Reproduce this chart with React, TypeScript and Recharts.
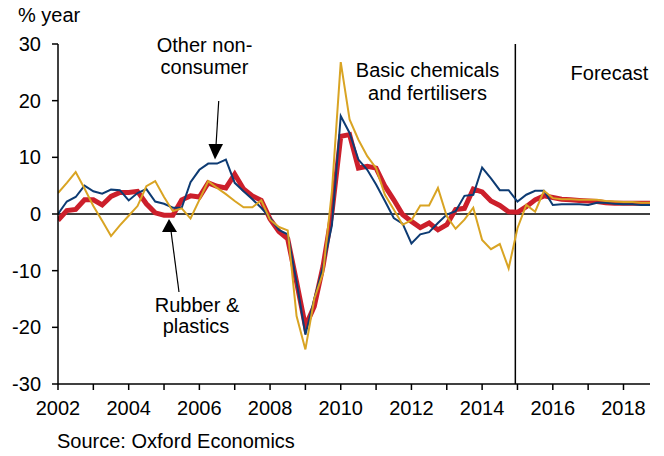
import React from "react";
import { LineChart, Line, XAxis, YAxis, ReferenceLine } from "recharts";

const startYear = 2002;
const forecastStart = 2014.94;
const xTicks = [2002, 2003, 2004, 2005, 2006, 2007, 2008, 2009, 2010, 2011, 2012, 2013, 2014, 2015, 2016, 2017, 2018];
const yTicks = [-30, -20, -10, 0, 10, 20, 30];

const otherNonConsumer = [0, 2.2, 3.0, 5.0, 4.0, 3.6, 4.3, 4.2, 2.4, 3.7, 4.4, 2.2, 1.8, 1.1, 1.1, 5.6, 7.8, 8.9, 8.9, 9.6, 5.5, 4.0, 2.6, 1.1, -0.7, -2.8, -3.6, -12, -21.3, -15, -9.3, -2, 17.3, 14.3, 9.6, 7.8, 5.2, 2.3, -0.7, -1.7, -5.2, -3.6, -3.2, -1.6, -0.1, 0.5, 3.2, 3.4, 8.2, 6.3, 4.2, 4.2, 2.2, 3.4, 4.1, 4.1, 1.6, 1.7, 1.7, 1.7, 1.6, 2.0, 2.0, 1.8, 1.7, 1.7, 1.6, 1.6];
const rubberPlastics = [-1.1, 0.6, 0.8, 2.5, 2.5, 1.6, 3.1, 3.8, 3.8, 4.0, 1.8, 0.2, -0.2, -0.2, 2.5, 3.2, 3.0, 5.5, 4.9, 4.6, 7.0, 4.4, 3.2, 2.4, -0.9, -3.1, -4.4, -12, -19.8, -16.3, -9.2, 0.2, 13.7, 14.0, 8.1, 8.4, 8.1, 4.9, 2.5, -0.1, -1.3, -2.4, -1.6, -2.8, -1.9, 0.8, 1.0, 4.4, 3.9, 2.3, 1.5, 0.4, 0.3, 1.3, 2.5, 3.2, 2.9, 2.6, 2.5, 2.4, 2.3, 2.2, 2.0, 1.9, 1.9, 1.9, 1.9, 1.9];
const basicChemicals = [3.7, 5.5, 7.4, 4.5, 1.4, -1.2, -3.9, -2.0, -0.3, 1.4, 4.9, 5.8, 3.0, 0.5, 1.0, -0.8, 2.5, 5.8, 4.6, 3.5, 2.3, 1.2, 1.2, 2.4, -1.0, -2.3, -2.9, -18, -23.9, -15, -10.4, 4, 26.8, 16.7, 13.1, 10.2, 8.1, 3.4, 0.8, -1.9, -1.1, 1.5, 1.5, 4.6, -0.4, -2.6, -1.0, 1.1, -4.6, -6.2, -5.3, -9.6, -2.5, 1.6, 0.4, 4.1, 2.8, 2.6, 2.6, 2.5, 2.5, 2.5, 2.3, 2.2, 2.1, 2.1, 2.0, 2.0];

const data = otherNonConsumer.map((v, i) => ({
  t: startYear + i / 4,
  other: v,
  rubber: rubberPlastics[i],
  basic: basicChemicals[i],
}));

const FONT = "'Liberation Sans', Arial, sans-serif";

export default function App() {
  return (
    <div style={{ position: "absolute", left: 0, top: 0, width: 664, height: 456, background: "#fff", fontFamily: FONT }}>
      <LineChart width={664} height={456} data={data} margin={{ top: 44, right: 14, left: 0, bottom: 42 }}>
        <XAxis
          type="number"
          dataKey="t"
          domain={[2002, 2018.75]}
          ticks={xTicks}
          allowDataOverflow
          height={30}
          tickFormatter={(v: number) => (v % 2 === 0 ? String(v) : "")}
          tick={{ fill: "#000", fontSize: 20, fontFamily: FONT }}
          tickSize={6}
          tickMargin={11}
          axisLine={{ stroke: "#000", strokeWidth: 1.5 }}
          tickLine={{ stroke: "#000", strokeWidth: 1.5 }}
        />
        <YAxis
          type="number"
          domain={[-30, 30]}
          ticks={yTicks}
          width={58}
          tick={{ fill: "#000", fontSize: 20, fontFamily: FONT }}
          tickSize={6}
          tickMargin={11}
          axisLine={{ stroke: "#000", strokeWidth: 1.5 }}
          tickLine={{ stroke: "#000", strokeWidth: 1.5 }}
        />
        <ReferenceLine y={0} stroke="#000" strokeWidth={1.5} />
        <ReferenceLine x={forecastStart} stroke="#000" strokeWidth={1.5} />
        <Line type="linear" dataKey="rubber" stroke="#CC1F2B" strokeWidth={5} dot={false} isAnimationActive={false} />
        <Line type="linear" dataKey="other" stroke="#0D3B73" strokeWidth={2} dot={false} isAnimationActive={false} />
        <Line type="linear" dataKey="basic" stroke="#D9A423" strokeWidth={2} dot={false} isAnimationActive={false} />
      </LineChart>
      <svg width={664} height={456} style={{ position: "absolute", left: 0, top: 0, pointerEvents: "none" }}>
        <g fontFamily={FONT} fontSize={20} fill="#000">
          <text x={18} y={22}>% year</text>
          <text x={204.5} y={52} textAnchor="middle">Other non-</text>
          <text x={204.5} y={74} textAnchor="middle">consumer</text>
          <text x={427.5} y={77} textAnchor="middle">Basic chemicals</text>
          <text x={427.5} y={100} textAnchor="middle">and fertilisers</text>
          <text x={609.5} y={80} textAnchor="middle">Forecast</text>
          <text x={197} y={312} textAnchor="middle">Rubber &amp;</text>
          <text x={196} y={333} textAnchor="middle">plastics</text>
          <text x={57} y={448}>Source: Oxford Economics</text>
        </g>
        <line x1={218.7} y1={101} x2={216} y2={146} stroke="#000" strokeWidth={1.2} />
        <polygon points="208.5,144 223,144 215,159.5" fill="#000" />
        <line x1={179} y1={292} x2={171} y2={231} stroke="#000" strokeWidth={1.2} />
        <polygon points="162,232 177,232 169,219" fill="#000" />
      </svg>
    </div>
  );
}
